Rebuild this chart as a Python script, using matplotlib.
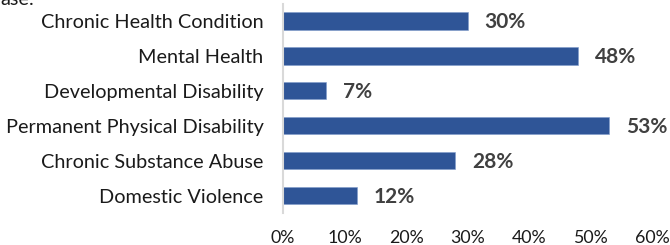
import matplotlib.pyplot as plt
from matplotlib.ticker import PercentFormatter

categories = ['Chronic Health Condition', 'Mental Health', 'Developmental Disability',
              'Permanent Physical Disability', 'Chronic Substance Abuse', 'Domestic Violence']
values = [30, 48, 7, 53, 28, 12]
xticks = [0, 10, 20, 30, 40, 50, 60]

plt.rcParams['font.family'] = ['Lato', 'DejaVu Sans']

fig = plt.figure(figsize=(6.7, 2.45), dpi=100)
ax = fig.add_axes([283/670, 1 - 213/245, 369/670, 209.4/245])

ypos = list(range(len(categories)))[::-1]
ax.barh(ypos, values, height=0.49, color='#2F5597', edgecolor='#7F9BCB', linewidth=0.4)

for y, v in zip(ypos, values):
    ax.text(v + 2.8, y - 0.03, f'{v}%', va='center', ha='left', fontsize=15,
            fontweight='bold', color='#404040')

ax.set_yticks(ypos)
ax.set_yticklabels(categories, fontsize=14.3, color='#1a1a1a')
ax.set_ylim(-0.5, 5.5)
ax.set_xlim(0, 60)
ax.set_xticks(xticks)
ax.xaxis.set_major_formatter(PercentFormatter(decimals=0))
ax.tick_params(axis='x', length=0, pad=12, labelsize=12.8, labelcolor='#1a1a1a')
ax.tick_params(axis='y', length=0, pad=14)

for s in ['top', 'right', 'bottom']:
    ax.spines[s].set_visible(False)
ax.spines['left'].set_color('#D9D9D9')
ax.spines['left'].set_linewidth(1.5)

# clipped text from the line above the chart
fig.text(0.0, 1 - 5/245, 'ase:', fontsize=14.3, color='#1a1a1a', ha='left', va='baseline')

fig.savefig('out.png', dpi=100)
